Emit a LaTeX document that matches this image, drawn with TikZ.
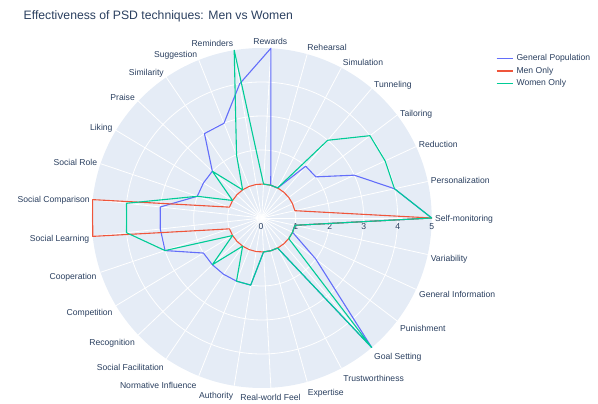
\documentclass[tikz,border=0pt]{standalone}
\usepackage{fontspec}
\setmainfont{Liberation Sans}
\usetikzlibrary{calc}
\definecolor{polarbg}{HTML}{E5ECF6}
\definecolor{labelcol}{HTML}{2A3F5F}
\definecolor{genblue}{HTML}{636EFA}
\definecolor{menred}{HTML}{EF553B}
\definecolor{womgreen}{HTML}{00CC96}

\begin{document}
\begin{tikzpicture}[x=1pt,y=1pt,
  lbl/.style={font=\fontsize{8.6}{10}\selectfont, text=labelcol, inner sep=0pt, text height=6.2pt, text depth=1.8pt},
  grid/.style={white, line width=0.8pt},
  trace/.style={line width=1.1pt, line join=round}]
\useasboundingbox (-261.7,-186) rectangle (336.3,218);
\def\ang{12.4138}
\def\u{34}

\fill[polarbg] (0,0) circle (5*\u); %polar background
\foreach \k in {0,...,28} \draw[grid] (0,0) -- (\k*\ang:5*\u);
\foreach \r in {1,...,4} \draw[grid] (0,0) circle (\r*\u);

\node[lbl] (tick0) at (-0.7,-9.8) {0};
\node[lbl] (tick1) at (34,-9.8) {1};
\node[lbl] (tick2) at (68,-9.8) {2};
\node[lbl] (tick3) at (102,-9.8) {3};
\node[lbl] (tick4) at (136,-9.8) {4};
\node[lbl] (tick5) at (170,-9.8) {5};

%category labels, counterclockwise from Self-monitoring
\node[lbl, anchor=west] (selfmon) at (173.3,-1.5) {Self-monitoring};
\node[lbl, anchor=west] (personal) at (169.0,36.2) {Personalization};
\node[lbl, anchor=west] (reduct) at (157.0,72.2) {Reduction};
\node[lbl, anchor=west] (tailor) at (138.3,103.9) {Tailoring};
\node[lbl, anchor=west] (tunnel) at (112.3,132.2) {Tunneling};
\node[lbl, anchor=west] (simul) at (81.0,154.5) {Simulation};
\node[lbl, anchor=west] (rehears) at (45.6,169.5) {Rehearsal};
\node[lbl] (rewards) at (8.6,175.2) {Rewards};
\node[lbl, anchor=east] (remind) at (-28.4,173.5) {Reminders};
\node[lbl, anchor=east] (suggest) at (-64.4,162.5) {Suggestion};
\node[lbl, anchor=east] (similar) at (-97.7,144.5) {Similarity};
\node[lbl, anchor=east] (praise) at (-126.7,119.2) {Praise};
\node[lbl, anchor=east] (liking) at (-149.0,89.5) {Liking};
\node[lbl, anchor=east] (socrole) at (-164.4,54.5) {Social Role};
\node[lbl, anchor=east] (soccomp) at (-171.7,17.2) {Social Comparison};
\node[lbl, anchor=east] (soclearn) at (-172.4,-21.8) {Social Learning};
\node[lbl, anchor=east] (coop) at (-165.0,-59.8) {Cooperation};
\node[lbl, anchor=east] (compet) at (-149.0,-95.8) {Competition};
\node[lbl, anchor=east] (recog) at (-126.7,-125.8) {Recognition};
\node[lbl, anchor=east] (socfac) at (-97.7,-150.5) {Social Facilitation};
\node[lbl, anchor=east] (norminf) at (-65.0,-168.5) {Normative Influence};
\node[lbl, anchor=east] (author) at (-28.4,-178.8) {Authority};
\node[lbl] (realworld) at (8.8,-180.8) {Real-world Feel};
\node[lbl, anchor=west] (expert) at (46.0,-175.1) {Expertise};
\node[lbl, anchor=west] (trust) at (81.6,-161.1) {Trustworthiness};
\node[lbl, anchor=west] (goalset) at (112.3,-139.5) {Goal Setting};
\node[lbl, anchor=west] (punish) at (138.3,-111.8) {Punishment};
\node[lbl, anchor=west] (geninfo) at (157.3,-77.8) {General Information};
\node[lbl, anchor=west] (variab) at (169.0,-41.1) {Variability};

%traces
\draw[trace, genblue] (0:5*\u) \foreach \v [count=\k] in {4,3,2,2,1,1,5,4,3,3,2,2,2,3,3,3,2,2,2,2,2,1,1,1,5,2,1,1} { -- (\k*\ang:\v*\u) } -- cycle;
\draw[trace, menred] (0:5*\u) \foreach \v [count=\k] in {1,1,1,1,1,1,1,1,1,1,1,1,1,5,5,1,1,1,1,1,1,1,1,1,1,1,1,1} { -- (\k*\ang:\v*\u) } -- cycle;
\draw[trace, womgreen] (0:5*\u) \foreach \v [count=\k] in {4,4,4,3,1,1,1,5,2,1,2,1,2,4,4,3,1,2,1,2,2,1,1,1,5,1,1,1} { -- (\k*\ang:\v*\u) } -- cycle;

\node[font=\fontsize{12.2}{14}\selectfont, text=labelcol, inner sep=0pt, anchor=base west] (title) at (-238.2,198) {Effectiveness of PSD techniques: Men vs Women};

%legend
\coordinate (leg1) at (235,159.7);
\coordinate (leg2) at (235,147);
\coordinate (leg3) at (235,134.3);
\draw[trace, genblue] (leg1) -- ++(16,0) node[lbl, anchor=west, xshift=3.3pt] (legtxt1) {General Population};
\draw[trace, menred] (leg2) -- ++(16,0) node[lbl, anchor=west, xshift=3.3pt] (legtxt2) {Men Only};
\draw[trace, womgreen] (leg3) -- ++(16,0) node[lbl, anchor=west, xshift=3.3pt] (legtxt3) {Women Only};
\end{tikzpicture}
\end{document}
